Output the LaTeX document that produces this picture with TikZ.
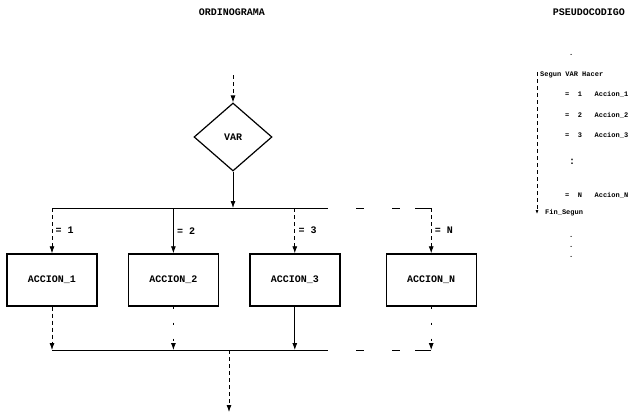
\documentclass[tikz,border=0pt]{standalone}
\usepackage{fontspec}
\setmonofont{Liberation Mono}
\usetikzlibrary{shapes.geometric, arrows.meta, positioning}

\begin{document}
\begin{tikzpicture}[
    x=1pt, y=-1pt,
    node distance=30pt,
    title/.style={font=\ttfamily\bfseries},
    decision/.style={draw, diamond, aspect=1.15, minimum width=78pt, minimum height=68pt,
                     inner sep=0pt, line width=1.2pt, font=\ttfamily\bfseries},
    process/.style={draw, rectangle, minimum width=90pt, minimum height=52pt,
                    line width=1.4pt, font=\ttfamily\bfseries},
    caselabel/.style={right, font=\ttfamily\bfseries},
    code/.style={anchor=west, inner sep=0pt, font=\ttfamily\scriptsize\bfseries},
    line/.style={line width=0.8pt},
    arrow/.style={-{Latex[length=7pt,width=5pt]}, line width=0.8pt},
    faded/.style={dash pattern=on 4pt off 3pt},
    gap/.style={line width=0.8pt, dash pattern=on 8pt off 28pt}
]
    \useasboundingbox (0,0) rectangle (638,416);

    % Titles
    \node[title] (ordi) at (232,12) {ORDINOGRAMA};
    \node[title] (pseudo) at (589,12) {PSEUDOCODIGO};

    % Nodes
    \coordinate (in) at (233,75);
    \node[decision] (var) at (233,137) {VAR};
    \coordinate (busT) at (233,208);
    \node[process] (acc1) at (52,280) {ACCION\_1};
    \node[process, right=of acc1] (acc2) {ACCION\_2};
    \node[process, right=of acc2] (acc3) {ACCION\_3};
    \node[process, right=45pt of acc3] (accN) {ACCION\_N};
    \coordinate (busB) at (229,350);
    \coordinate (out) at (229,412);
    \coordinate (gapT1) at (320,208);
    \coordinate (gapT2) at (415,208);
    \coordinate (gapB1) at (320,350);
    \coordinate (gapB2) at (415,350);

    % Arrows
    \draw[arrow, faded] (in) -- (var);
    \draw[arrow] (var) -- (busT);
    \draw[line] (acc1.north |- busT) -- (gapT1);
    \draw[gap] (gapT1) -- (gapT2);
    \draw[line] (gapT2) -- (accN.north |- busT);
    \draw[arrow, faded] (acc1.north |- busT) -- node[caselabel] {= 1} (acc1);
    \draw[arrow] (acc2.north |- busT) -- node[caselabel] {= 2} (acc2);
    \draw[arrow, faded] (acc3.north |- busT) -- node[caselabel] {= 3} (acc3);
    \draw[arrow, faded] (accN.north |- busT) -- node[caselabel] {= N} (accN);
    \draw[arrow, faded] (acc1) -- (acc1.south |- busB);
    \draw[arrow, dash pattern=on 2pt off 14pt] (acc2) -- (acc2.south |- busB);
    \draw[arrow] (acc3) -- (acc3.south |- busB);
    \draw[arrow, dash pattern=on 2pt off 14pt] (accN) -- (accN.south |- busB);
    \draw[line] (acc1.south |- busB) -- (gapB1);
    \draw[gap] (gapB1) -- (gapB2);
    \draw[line] (gapB2) -- (accN.south |- busB);
    \draw[arrow, faded] (busB) -- (out);

    % Pseudocodigo
    \node[code] (dotA) at (569,55) {.};
    \node[code] (segun) at (540,75) {Segun VAR Hacer};
    \node[code] (c1) at (565,94) {=~~1~~~Accion\_1};
    \node[code] (c2) at (565,115) {=~~2~~~Accion\_2};
    \node[code] (c3) at (565,135) {=~~3~~~Accion\_3};
    \node[code, font=\ttfamily\bfseries] (dotB) at (569,162) {:};
    \node[code] (cN) at (565,195) {=~~N~~~Accion\_N};
    \node[code] (fin) at (545,213) {Fin\_Segun};
    \node[code, align=center] (dotC) at (569,247) {.\\[2pt].\\[2pt].};
    \coordinate (brT) at (537,72);
    \coordinate (brB) at (537,214);
    \draw[-{Latex[length=4pt,width=3pt]}, faded, line width=0.6pt] (brT) -- (brB);
\end{tikzpicture}
\end{document}
